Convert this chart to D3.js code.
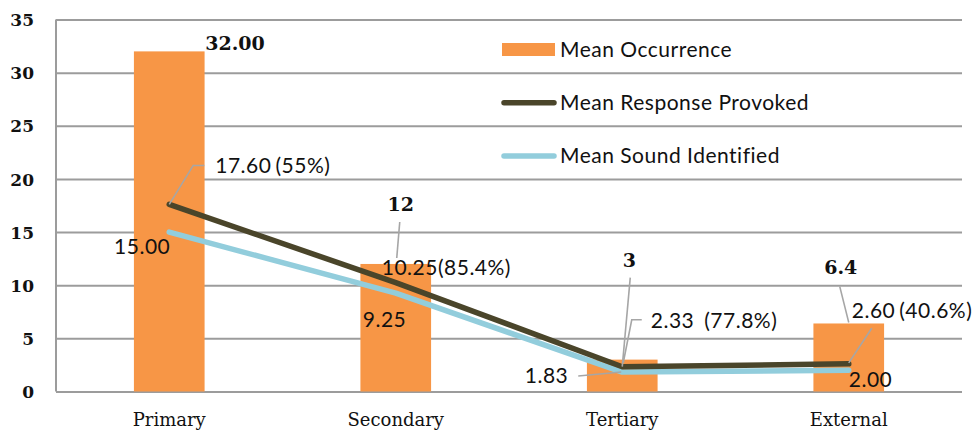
<!DOCTYPE html>
<html>
<head>
<meta charset="utf-8">
<script src="https://cdn.jsdelivr.net/npm/d3@7"></script>
<style>
  html, body { margin: 0; padding: 0; background: #fff; }
  svg { display: block; }
</style>
</head>
<body>
<svg id="chart" width="978" height="433"></svg>
<script>
// Categories and series
const categories = ["Primary", "Secondary", "Tertiary", "External"];
const meanOccurrence = [32, 12, 3, 6.4];
const meanResponse = [17.6, 10.25, 2.33, 2.6];
const meanSound = [15, 9.25, 1.83, 2.0];
const occurrenceLabels = ["32.00", "12", "3", "6.4"];
const responsePct = ["55%", "85.4%", "77.8%", "40.6%"];
const yTicks = [0, 5, 10, 15, 20, 25, 30, 35];
const seriesNames = ["Mean Occurrence", "Mean Response Provoked", "Mean Sound Identified"];

const COL_BAR = "#F79646";
const COL_RESP = "#4A452A";
const COL_SOUND = "#92CDDC";
const COL_GRID = "#9C9C9C";
const COL_LEADER = "#A6A6A6";
const SANS = "Lato, 'Open Sans', sans-serif";
const SERIF = "'DejaVu Serif', serif";
const SANS_SPACING = 0.5;

const svg = d3.select("#chart");
const plot = { left: 56, right: 962, top: 19.5, bottom: 391.5 };

const x = d3.scaleBand()
  .domain(categories)
  .range([plot.left, plot.right])
  .paddingInner(0.688)
  .paddingOuter(0.344);
const cx = c => x(c) + x.bandwidth() / 2;

const y = d3.scaleLinear().domain([0, 35]).range([plot.bottom, plot.top]);

// Horizontal gridlines + y tick labels
const yAxis = svg.append("g")
  .attr("transform", `translate(${plot.left},0)`)
  .call(d3.axisLeft(y).tickValues(yTicks).tickSize(-(plot.right - plot.left)).tickPadding(22).tickFormat(d3.format("d")));
yAxis.select(".domain").remove();
yAxis.selectAll(".tick line").attr("stroke", COL_GRID).attr("stroke-width", 2);
yAxis.selectAll(".tick text")
  .attr("font-family", SERIF).attr("font-weight", "bold").attr("font-size", 17)
  .attr("fill", "#111").attr("dy", "0.36em");

// Left axis line
svg.append("line")
  .attr("x1", plot.left).attr("x2", plot.left)
  .attr("y1", y(35)).attr("y2", y(0))
  .attr("stroke", COL_GRID).attr("stroke-width", 2);

// Category axis
const xAxis = svg.append("g")
  .attr("transform", `translate(0,${plot.bottom})`)
  .call(d3.axisBottom(x).tickSize(0).tickPadding(22));
xAxis.select(".domain").remove();
xAxis.selectAll(".tick text")
  .attr("font-family", SERIF).attr("font-size", 18).attr("fill", "#111");

// Bars
svg.append("g").selectAll("rect")
  .data(categories)
  .join("rect")
  .attr("x", d => x(d))
  .attr("width", x.bandwidth())
  .attr("y", (d, i) => y(meanOccurrence[i]))
  .attr("height", (d, i) => y(0) - y(meanOccurrence[i]))
  .attr("fill", COL_BAR);

// Lines
const line = d3.line().x(d => cx(d.c)).y(d => y(d.v));
const soundPts = categories.map((c, i) => ({ c, v: meanSound[i] }));
const respPts = categories.map((c, i) => ({ c, v: meanResponse[i] }));
svg.append("path").datum(soundPts).attr("d", line)
  .attr("fill", "none").attr("stroke", COL_SOUND).attr("stroke-width", 5.5)
  .attr("stroke-linejoin", "round").attr("stroke-linecap", "round");
svg.append("path").datum(respPts).attr("d", line)
  .attr("fill", "none").attr("stroke", COL_RESP).attr("stroke-width", 5.5)
  .attr("stroke-linejoin", "round").attr("stroke-linecap", "round");

// Data labels: offsets from each anchor point, with optional leader polyline
const labels = svg.append("g");
function addLabel(ax, ay, spec) {
  if (spec.leader) {
    labels.append("polyline")
      .attr("points", spec.leader.map(p => `${ax + p[0]},${ay + p[1]}`).join(" "))
      .attr("fill", "none").attr("stroke", COL_LEADER).attr("stroke-width", 1.6);
  }
  const t = labels.append("text")
    .attr("x", ax + spec.dx).attr("y", ay + spec.dy)
    .attr("text-anchor", spec.anchor || "start")
    .attr("font-family", spec.font).attr("font-size", spec.size)
    .attr("font-weight", spec.bold ? "bold" : "normal")
    .attr("letter-spacing", spec.spacing || 0)
    .attr("fill", "#111");
  spec.parts.forEach((p, k) => {
    t.append("tspan").attr("dx", k === 0 ? 0 : p.gap).text(p.text);
  });
}

// Occurrence (bar) labels, anchored at bar top
const occPlace = [
  { dx: 36, dy: -1 },
  { dx: 5, dy: -53, anchor: "middle", leader: [[1, -6], [4, -42]] },
  { dx: 7, dy: -93, anchor: "middle", leader: [[0, 7], [8, -82]] },
  { dx: -8, dy: -49, anchor: "middle", leader: [[0, -1], [-9, -37]] }
];
categories.forEach((c, i) => {
  addLabel(cx(c), y(meanOccurrence[i]), Object.assign({
    font: SERIF, size: 19, bold: true, parts: [{ text: occurrenceLabels[i] }]
  }, occPlace[i]));
});

// Response labels, anchored at line point
const respPlace = [
  { dx: 46, dy: -31, gap: 4, leader: [[0, 0], [24, -39], [35, -39]] },
  { dx: -14, dy: -7.5, gap: 0 },
  { dx: 28.5, dy: -39, gap: 10, leader: [[1, -4], [9.5, -47], [19.5, -47]] },
  { dx: 3, dy: -45.6, gap: 4, leader: [[0, -1], [23, -35.6]] }
];
categories.forEach((c, i) => {
  addLabel(cx(c), y(meanResponse[i]), Object.assign({
    font: SANS, size: 21, spacing: SANS_SPACING,
    parts: [{ text: meanResponse[i].toFixed(2) }, { text: `(${responsePct[i]})`, gap: respPlace[i].gap }]
  }, respPlace[i]));
});

// Sound labels, anchored at line point
const soundPlace = [
  { dx: 1, dy: 22, anchor: "end" },
  { dx: -33, dy: 33.5 },
  { dx: -54, dy: 11, anchor: "end", leader: [[-44, 4], [-1, 0]] },
  { dx: 0, dy: 16.5 }
];
categories.forEach((c, i) => {
  addLabel(cx(c), y(meanSound[i]), Object.assign({
    font: SANS, size: 21, spacing: SANS_SPACING, parts: [{ text: meanSound[i].toFixed(2) }]
  }, soundPlace[i]));
});

// Legend
const legend = svg.append("g").attr("transform", "translate(502,0)");
const legendRows = [49.5, 102.7, 156];
legendRows.forEach((ry, i) => {
  if (i === 0) {
    legend.append("rect").attr("x", 0).attr("y", ry - 6.5).attr("width", 53).attr("height", 13).attr("fill", COL_BAR);
  } else {
    legend.append("line").attr("x1", 2).attr("x2", 52).attr("y1", ry).attr("y2", ry)
      .attr("stroke", i === 1 ? COL_RESP : COL_SOUND).attr("stroke-width", 5.5).attr("stroke-linecap", "round");
  }
  legend.append("text").attr("x", 58).attr("y", ry + 7)
    .attr("font-family", SANS).attr("font-size", 21).attr("letter-spacing", SANS_SPACING)
    .attr("fill", "#111")
    .text(seriesNames[i]);
});
</script>
</body>
</html>
